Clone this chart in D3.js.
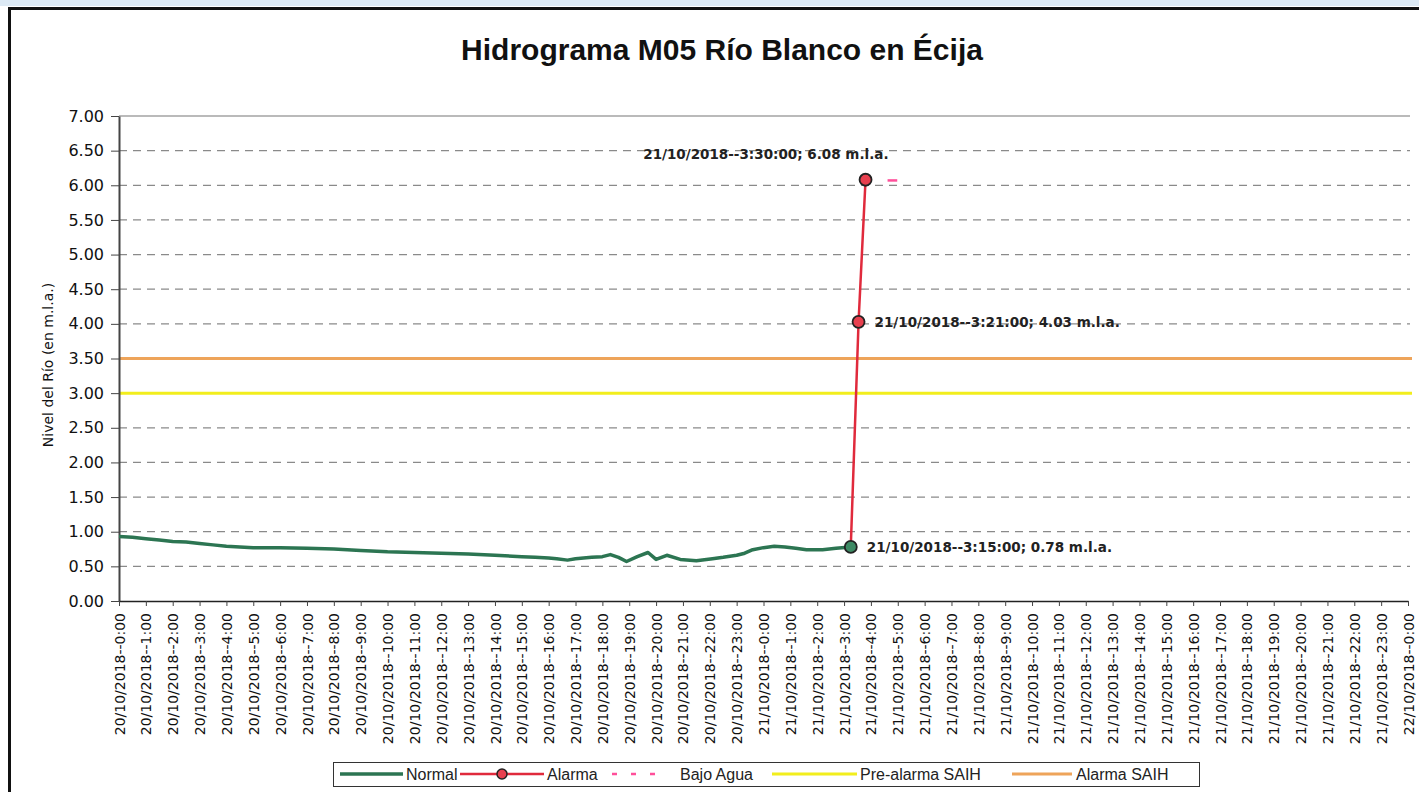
<!DOCTYPE html>
<html>
<head>
<meta charset="utf-8">
<script src="https://cdn.jsdelivr.net/npm/d3@7"></script>
<style>
  body { margin: 0; background: #fff; }
  svg { display: block; }
</style>
</head>
<body>
<div id="chart"></div>
<script>
// series (hours after 20/10/2018 0:00, level in m.l.a.)
var normalHours  = [0, 0.5, 1, 1.5, 2, 2.5, 3, 3.5, 4, 4.5, 5, 6, 7, 8, 9, 10, 11, 12, 13, 14, 15, 15.5, 16, 16.3, 16.7, 17, 17.6, 18, 18.3, 18.6, 18.9, 19.3, 19.7, 20, 20.4, 20.9, 21.5, 22.1, 22.5, 23, 23.3, 23.6, 24, 24.4, 24.8, 25.2, 25.6, 26.2, 26.7, 27.25];
var normalLevels = [0.93, 0.92, 0.90, 0.88, 0.86, 0.85, 0.83, 0.81, 0.79, 0.78, 0.77, 0.77, 0.76, 0.75, 0.73, 0.71, 0.70, 0.69, 0.68, 0.66, 0.64, 0.63, 0.62, 0.61, 0.59, 0.61, 0.63, 0.64, 0.67, 0.63, 0.57, 0.64, 0.70, 0.60, 0.66, 0.60, 0.58, 0.61, 0.63, 0.66, 0.69, 0.74, 0.77, 0.79, 0.78, 0.76, 0.74, 0.74, 0.76, 0.78];

var alarmaHours  = [27.25, 27.54, 27.8];
var alarmaLevels = [0.78, 4.03, 6.08];

var bajoAguaHours  = [28.62, 28.98];
var bajoAguaLevels = [6.07, 6.07];

var preAlarmaLevel = 3.00;
var alarmaSaihLevel = 3.50;

var yTicks = [0, 0.5, 1, 1.5, 2, 2.5, 3, 3.5, 4, 4.5, 5, 5.5, 6, 6.5, 7];

var pointLabels = [
  "21/10/2018--3:15:00; 0.78 m.l.a.",
  "21/10/2018--3:21:00; 4.03 m.l.a.",
  "21/10/2018--3:30:00; 6.08 m.l.a."
];

var legendNames = ["Normal", "Alarma", "Bajo Agua", "Pre-alarma SAIH", "Alarma SAIH"];

var title = "Hidrograma M05 Río Blanco en Écija";
var yTitle = "Nivel del Río (en m.l.a.)";

var start = new Date(2018, 9, 20, 0, 0);
var end = new Date(2018, 9, 22, 0, 0);
function toDate(h){ return new Date(start.getTime() + h * 3600000); }

var width = 1419, height = 792;
var svg = d3.select("#chart").append("svg")
    .attr("width", width)
    .attr("height", height);

// scan background strip + frame
svg.append("rect").attr("x", 0).attr("y", 0).attr("width", width).attr("height", 6).attr("fill", "#dce9f4");
svg.append("rect").attr("x", 0).attr("y", 6).attr("width", width).attr("height", height).attr("fill", "#fff");
svg.append("rect")
    .attr("x", 9.5).attr("y", 8.5)
    .attr("width", 1500).attr("height", 900)
    .attr("fill", "none").attr("stroke", "#111").attr("stroke-width", 3);

var xScale = d3.scaleTime().domain([start, end]).range([119, 1408]);
var yScale = d3.scaleLinear().domain([0, 7]).range([601, 116]);

// title
svg.append("text")
    .attr("x", 722).attr("y", 60)
    .attr("text-anchor", "middle")
    .style("font-family", "'Liberation Sans', Arial, sans-serif")
    .style("font-weight", "bold")
    .style("font-size", "30px")
    .attr("fill", "#111")
    .text(title);

// grid
svg.append("g").selectAll("line")
    .data(yTicks.filter(function(d){ return d > 0; }))
    .enter().append("line")
    .attr("x1", 119).attr("x2", 1410)
    .attr("y1", function(d){ return yScale(d); })
    .attr("y2", function(d){ return yScale(d); })
    .attr("stroke", function(d){ return d == 7 ? "#777" : "#8a8a8a"; })
    .attr("stroke-width", 1.2)
    .attr("stroke-dasharray", function(d){ return d == 7 ? null : "8,6"; });

// threshold lines
svg.append("line")
    .attr("x1", 119).attr("x2", 1412)
    .attr("y1", yScale(preAlarmaLevel)).attr("y2", yScale(preAlarmaLevel))
    .attr("stroke", "#f2ee1c").attr("stroke-width", 3);
svg.append("line")
    .attr("x1", 119).attr("x2", 1412)
    .attr("y1", yScale(alarmaSaihLevel)).attr("y2", yScale(alarmaSaihLevel))
    .attr("stroke", "#eea45a").attr("stroke-width", 3);

// axes
var yAxis = svg.append("g")
    .attr("transform", "translate(119,0)")
    .call(d3.axisLeft(yScale).tickValues(yTicks).tickFormat(d3.format(".2f")).tickSize(8).tickSizeOuter(0));
yAxis.select(".domain").attr("stroke", "#444").attr("stroke-width", 2);
yAxis.selectAll(".tick line").attr("stroke", "#444");
yAxis.selectAll("text")
    .attr("x", -15)
    .style("font-family", "'DejaVu Sans', sans-serif")
    .style("font-size", "16px")
    .attr("fill", "#111");

var xAxis = svg.append("g")
    .attr("transform", "translate(0,601)")
    .call(d3.axisBottom(xScale)
        .ticks(d3.timeHour.every(1))
        .tickFormat(d3.timeFormat("%d/%m/%Y--%-H:%M"))
        .tickSize(5).tickSizeOuter(0));
xAxis.select(".domain").attr("stroke", "#222").attr("stroke-width", 1.5);
xAxis.selectAll(".tick line").attr("stroke", "#444");
xAxis.selectAll("text")
    .attr("transform", "rotate(-90)")
    .attr("x", -12).attr("y", 0).attr("dy", "0.36em")
    .style("text-anchor", "end")
    .style("font-family", "'DejaVu Sans', sans-serif")
    .style("font-size", "14px")
    .attr("fill", "#111");

// y axis title
svg.append("text")
    .attr("transform", "translate(53,365) rotate(-90)")
    .attr("text-anchor", "middle")
    .style("font-family", "'DejaVu Sans', sans-serif")
    .style("font-size", "14px")
    .attr("fill", "#111")
    .text(yTitle);

// series
var line = d3.line()
    .x(function(d){ return xScale(toDate(d[0])); })
    .y(function(d){ return yScale(d[1]); });

var normalData = d3.zip(normalHours, normalLevels);
var alarmaData = d3.zip(alarmaHours, alarmaLevels);
var bajoData = d3.zip(bajoAguaHours, bajoAguaLevels);

svg.append("path").datum(normalData)
    .attr("d", line)
    .attr("fill", "none").attr("stroke", "#2c7552").attr("stroke-width", 3.5)
    .attr("stroke-linejoin", "round");

svg.append("path").datum(alarmaData)
    .attr("d", line)
    .attr("fill", "none").attr("stroke", "#e02a3c").attr("stroke-width", 2.5);

svg.append("path").datum(bajoData)
    .attr("d", line)
    .attr("fill", "none").attr("stroke", "#ff4f9a").attr("stroke-width", 2.5);

svg.selectAll(".marker")
    .data(alarmaData)
    .enter().append("circle")
    .attr("class", "marker")
    .attr("cx", function(d){ return xScale(toDate(d[0])); })
    .attr("cy", function(d){ return yScale(d[1]); })
    .attr("r", 6)
    .attr("fill", function(d, i){ return i == 0 ? "#3d8a64" : "#e8404f"; })
    .attr("stroke", "#222").attr("stroke-width", 1.8);

// point labels
var labelOffsets = [[16, 5], [16, 5], [23, -21]];
var labelAnchors = ["start", "start", "end"];
svg.selectAll(".plabel")
    .data(alarmaData)
    .enter().append("text")
    .attr("class", "plabel")
    .attr("x", function(d, i){ return xScale(toDate(d[0])) + labelOffsets[i][0]; })
    .attr("y", function(d, i){ return yScale(d[1]) + labelOffsets[i][1]; })
    .attr("text-anchor", function(d, i){ return labelAnchors[i]; })
    .style("font-family", "'DejaVu Sans', sans-serif")
    .style("font-weight", "bold")
    .style("font-size", "13.5px")
    .attr("fill", "#222")
    .text(function(d, i){ return pointLabels[i]; });

// legend
var legend = svg.append("g");
legend.append("rect")
    .attr("x", 333.5).attr("y", 762.5)
    .attr("width", 866).attr("height", 24)
    .attr("fill", "#fff").attr("stroke", "#333").attr("stroke-width", 1);

var legendItems = [
  {x1: 340, x2: 403, tx: 406, color: "#2c7552", w: 3.5, dash: null, marker: false},
  {x1: 460, x2: 544, tx: 547, color: "#e02a3c", w: 2.5, dash: null, marker: true},
  {x1: 612, x2: 668, tx: 680, color: "#ff4f9a", w: 2.5, dash: "5,14", marker: false},
  {x1: 772, x2: 857, tx: 860, color: "#f2ee1c", w: 3, dash: null, marker: false},
  {x1: 1012, x2: 1072, tx: 1076, color: "#eea45a", w: 3, dash: null, marker: false}
];
legendItems.forEach(function(it, i){
  legend.append("line")
      .attr("x1", it.x1).attr("x2", it.x2)
      .attr("y1", 774).attr("y2", 774)
      .attr("stroke", it.color).attr("stroke-width", it.w)
      .attr("stroke-dasharray", it.dash);
  if (it.marker) {
    legend.append("circle")
        .attr("cx", (it.x1 + it.x2) / 2).attr("cy", 774).attr("r", 5)
        .attr("fill", "#e8404f").attr("stroke", "#222").attr("stroke-width", 1.5);
  }
  legend.append("text")
      .attr("x", it.tx).attr("y", 780)
      .style("font-family", "'Liberation Sans', Arial, sans-serif")
      .style("font-size", "16px")
      .attr("fill", "#222")
      .text(legendNames[i]);
});
</script>
</body>
</html>
